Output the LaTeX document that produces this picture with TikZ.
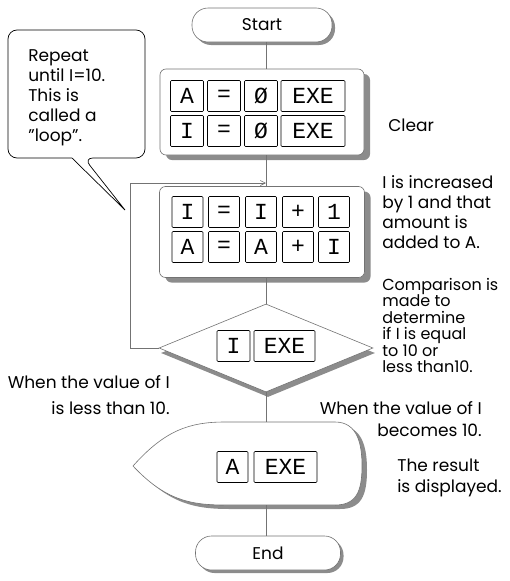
\documentclass[tikz,border=0pt]{standalone}
\usepackage{fontspec}
\setmainfont{Poppins}
\newfontfamily\keyfont{Liberation Mono}
\usetikzlibrary{shapes.geometric,shadows,arrows.meta}

\begin{document}
\begin{tikzpicture}[x = 1pt, y = -1pt, line width = 0.6pt,
  flow/.style = {draw = black!55},
  panel/.style = {draw = black!55, fill = white, rounded corners = 6pt,
    drop shadow = {shadow xshift = 6pt, shadow yshift = -5pt, fill = black!45, opacity = 1}},
  term/.style = {draw = black!55, fill = white, rounded corners = 16pt,
    minimum width = 140, minimum height = 34, inner sep = 0,
    font = \fontsize{17}{17}\selectfont,
    drop shadow = {shadow xshift = 3pt, shadow yshift = -3pt, fill = black!45, opacity = 1}},
  cond/.style = {shape = diamond, draw = black!55, fill = white, inner sep = 0,
    minimum width = 214, minimum height = 88,
    drop shadow = {shadow xshift = 2pt, shadow yshift = -5pt, fill = black!45, opacity = 1}},
  key/.style = {draw = black, fill = white, rounded corners = 1pt, inner sep = 0,
    minimum height = 31, font = \keyfont\fontsize{23}{23}\selectfont},
  txt/.style = {inner sep = 0, align = left, font = \fontsize{17}{20}\selectfont}]
\useasboundingbox (0, 0) rectangle (509, 581);

% boxes of the flow chart
\node[term] (start) at (262, 25) {Start};
\node[panel, minimum width = 204, minimum height = 86] (clear) at (262, 112) {};
\node[panel, minimum width = 205, minimum height = 91] (incr) at (262, 232) {};
\node[cond] (cmp) at (266, 348) {};
\fill[black!45] (138, 470) .. controls (170, 434) and (195, 426) .. (230, 426) -- (340, 426)
  .. controls (363, 426) and (367, 449) .. (367, 470) .. controls (367, 496) and (361, 509) .. (340, 509)
  -- (230, 509) .. controls (195, 509) and (170, 504) .. (138, 470) -- cycle;
\filldraw[fill = white, draw = black!55] (133, 466) .. controls (165, 430) and (190, 422) .. (225, 422) -- (335, 422)
  .. controls (358, 422) and (362, 445) .. (362, 466) .. controls (362, 492) and (356, 505) .. (335, 505)
  -- (225, 505) .. controls (190, 505) and (165, 500) .. (133, 466) -- cycle;
\node[inner sep = 0, minimum width = 190, minimum height = 83] (show) at (266, 463.5) {};
\node[term, minimum width = 145] (stop) at (268, 553) {End};

% keys
\foreach \t/\x/\w [count = \n] in {A/187/33, =/224/33, Ø/261/33, EXE/313/64}{\node[key, minimum width = \w] (clra\n) at (\x, 96) {\t};}
\foreach \t/\x/\w [count = \n] in {I/187/33, =/224/33, Ø/261/33, EXE/313/64}{\node[key, minimum width = \w] (clrb\n) at (\x, 131) {\t};}
\foreach \t/\x [count = \n] in {I/187.5, =/224, I/261, +/298, 1/334}{\node[key, minimum width = 31] (inca\n) at (\x, 212) {\t};}
\foreach \t/\x [count = \n] in {A/187.5, =/224, A/261, +/298, I/334}{\node[key, minimum width = 31] (incb\n) at (\x, 247) {\t};}
\node[key, minimum width = 33] (cmpa) at (233.5, 346) {I};
\node[key, minimum width = 61] (cmpb) at (284.5, 346) {EXE};
\node[key, minimum width = 31] (showa) at (232.5, 467) {A};
\node[key, minimum width = 63] (showb) at (285.5, 467) {EXE};

% connectors
\coordinate (axis) at (266, 0);
\draw[flow] (start.south -| axis) -- (clear.north -| axis);
\draw[flow] (clear.south -| axis) -- (incr.north -| axis);
\draw[flow] (incr.south -| axis) -- (cmp.north);
\draw[flow] (cmp.south) -- (show.north);
\draw[flow] (show.south) -- (show.south |- stop.north);
\coordinate (join) at (266, 183);
\draw[flow, -{Straight Barb[length = 5pt, width = 5pt]}] (cmp.west) -- ++(-28, 0) |- (join);

% speech balloon
\draw[line width = 0.7pt, rounded corners = 9pt] (72, 158) -- (8, 158) -- (8, 30) -- (145, 30) -- (145, 158) -- (84, 158) [sharp corners] -- (125, 210) -- cycle;
\node[txt, anchor = north west] (note) at (28, 49) {Repeat\\until I=10.\\This is\\called a\\''loop''.};

% remarks
\node[txt, anchor = west] (lclear) at (388, 125) {Clear};
\node[txt, anchor = north west] (lincr) at (382, 175) {I is increased\\by 1 and that\\amount is\\added to A.};
\node[txt, anchor = north west, font = \fontsize{16}{16.5}\selectfont] (lcmp) at (382, 278) {Comparison is\\made to\\determine\\if I is equal\\to 10 or\\less than10.};
\node[txt, anchor = north east, align = right, font = \fontsize{17}{26}\selectfont] (lno) at (170, 375) {When the value of I\\is less than 10.};
\node[txt, anchor = north east, align = right, font = \fontsize{17}{22}\selectfont] (lyes) at (482, 401) {When the value of I\\becomes 10.};
\node[txt, anchor = north west, font = \fontsize{17}{21}\selectfont] (lshow) at (397, 459) {The result\\is displayed.};
\end{tikzpicture}
\end{document}
